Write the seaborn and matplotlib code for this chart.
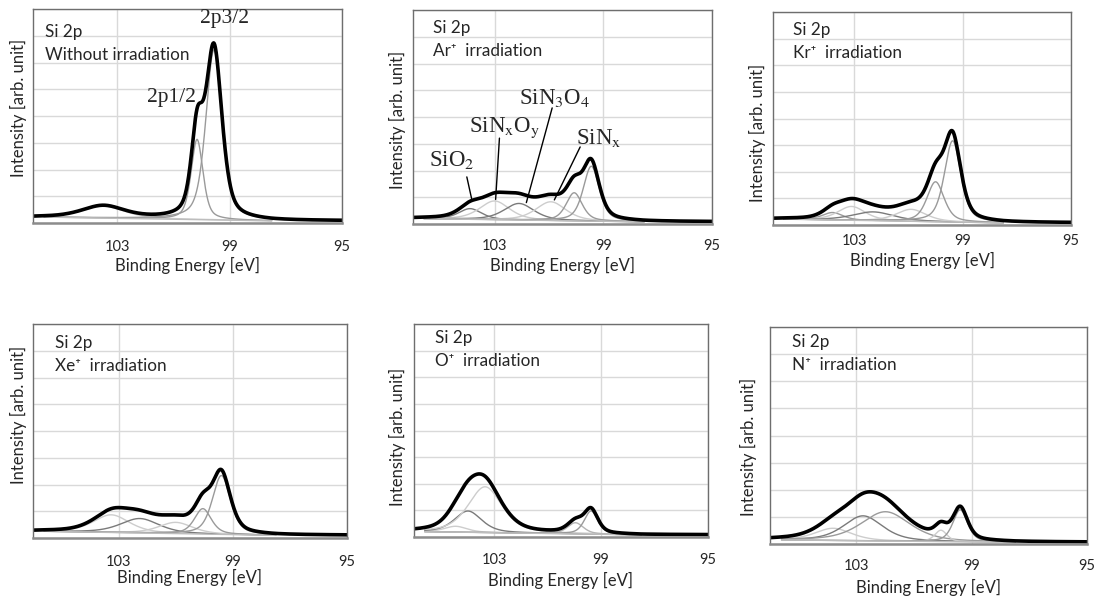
import numpy as np
import pandas as pd
import matplotlib
matplotlib.use("Agg")
import matplotlib.pyplot as plt
import seaborn as sns

# ---------------- data ----------------
x_ticks = [103, 99, 95]
x_range = (106, 95)
fit_range = (105.6, 97.5)

titles = ["Without irradiation", "Ar\u207a  irradiation", "Kr\u207a  irradiation",
          "Xe\u207a  irradiation", "O\u207a  irradiation", "N\u207a  irradiation"]

# peak centres [eV], heights above background [arb.], FWHM [eV], line shade
p1_centers = [103.5, 100.16, 99.56]
p1_heights = [0.45, 3.0, 6.35]
p1_fwhm = [1.8, 0.5, 0.68]
p1_shade = ["light", "mid", "mid"]
p1_bg = [0.22, 0.08]

p2_centers = [103.9, 103.0, 102.1, 100.93, 100.07, 99.44]
p2_heights = [0.4, 0.7, 0.62, 0.7, 1.05, 2.05]
p2_fwhm = [1.0, 1.3, 1.3, 1.3, 0.7, 0.7]
p2_shade = ["dark", "light", "dark", "light", "mid", "mid"]
p2_bg = [0.2, 0.08]

p3_centers = [103.8, 103.1, 102.3, 100.9, 100.0, 99.37]
p3_heights = [0.28, 0.52, 0.33, 0.45, 1.5, 3.05]
p3_fwhm = [0.9, 1.2, 1.8, 1.3, 0.75, 0.72]
p3_shade = ["mid", "light", "dark", "light", "mid", "mid"]
p3_bg = [0.22, 0.08]

p4_centers = [103.26, 102.26, 101.0, 100.05, 99.4]
p4_heights = [0.66, 0.54, 0.42, 0.95, 2.2]
p4_fwhm = [1.5, 1.6, 1.4, 0.7, 0.75]
p4_shade = ["light", "dark", "light", "mid", "mid"]
p4_bg = [0.25, 0.1]

p5_centers = [104.44, 103.98, 103.34, 99.96, 99.375]
p5_heights = [0.22, 0.8, 1.72, 0.42, 0.87]
p5_fwhm = [1.0, 1.2, 1.5, 0.7, 0.6]
p5_shade = ["light", "dark", "light", "lightmid", "mid"]
p5_bg = [0.2, 0.08]

p6_centers = [103.81, 102.77, 101.99, 100.07, 99.4]
p6_heights = [0.45, 0.92, 1.08, 0.42, 1.18]
p6_fwhm = [1.5, 1.6, 2.0, 0.5, 0.6]
p6_shade = ["light", "dark", "mid", "light", "mid"]
p6_bg = [0.15, 0.06]

# annotation labels
p1_labels = ["2p3/2", "2p1/2"]
p1_label_pos = [(99.18, 7.63), (101.07, 4.71)]
p2_labels = ["SiO$_2$", "SiN$_\\mathrm{x}$O$_\\mathrm{y}$", "SiN$_3$O$_4$", "SiN$_\\mathrm{x}$"]
p2_label_pos = [(104.57, 2.39), (102.63, 3.59), (100.8, 4.71), (99.16, 3.21)]
p2_line_start = [(104.02, 1.76), (102.82, 3.21), (100.88, 4.34), (99.85, 2.88)]
p2_line_end = [(103.84, 0.93), (102.96, 0.92), (101.83, 0.8), (100.8, 0.9)]

# ---------------- layout (pixels) ----------------
W, H = 1099, 598
boxes = [(33, 342, 9, 223), (413, 712, 10, 224), (773, 1071, 12, 225),
         (33, 347, 324, 538), (414, 708, 324, 537), (770, 1087, 327, 544)]
ylabel_xy = [(27, 108), (406, 120), (766, 133), (27, 415), (406, 437), (757, 447)]
note_offset = [(12, 18), (20, 13), (20, 13), (22, 14), (21, 9), (22, 10)]
tick_pad = [12.2, 10.8, 6.5, 12.2, 11.5, 10.8]
xlabel_pad = [2.3, 2.6, 3.0, 0.3, 3.4, 4.1]

shades = {"light": "#cdcdcd", "lightmid": "#b4b4b4", "mid": "#9a9a9a", "dark": "#7a7a7a"}

sns.set_theme(style="white")
plt.rcParams["font.family"] = ["Lato", "DejaVu Sans"]
plt.rcParams["mathtext.fontset"] = "stix"

fig = plt.figure(figsize=(W / 100, H / 100), dpi=100)

panels = [
    (p1_centers, p1_heights, p1_fwhm, p1_shade, p1_bg),
    (p2_centers, p2_heights, p2_fwhm, p2_shade, p2_bg),
    (p3_centers, p3_heights, p3_fwhm, p3_shade, p3_bg),
    (p4_centers, p4_heights, p4_fwhm, p4_shade, p4_bg),
    (p5_centers, p5_heights, p5_fwhm, p5_shade, p5_bg),
    (p6_centers, p6_heights, p6_fwhm, p6_shade, p6_bg),
]

xs = np.linspace(x_range[0], x_range[1], 1101)


def peak(x, c, h, w, eta=0.5):
    t = (x - c) / (w / 2)
    return h * ((1 - eta) * np.exp(-np.log(2) * t ** 2) + eta / (1 + t ** 2))


def background(x, bg):
    xl, xr = fit_range
    frac = np.clip((xl - x) / (xl - xr), 0, 1)
    return bg[0] + (bg[1] - bg[0]) * frac


for i, (box, (cen, hei, fw, sh, bg)) in enumerate(zip(boxes, panels)):
    l, r, t, b = box
    ax = fig.add_axes([l / W, 1 - b / H, (r - l) / W, (b - t) / H])
    base = background(xs, bg)
    infit = (xs <= fit_range[0]) & (xs >= fit_range[1])
    total = base.copy()
    for c, h, w, s in zip(cen, hei, fw, sh):
        comp = peak(xs, c, h, w)
        total = total + comp
        df = pd.DataFrame({"x": xs[infit], "y": (base + comp)[infit]})
        sns.lineplot(data=df, x="x", y="y", ax=ax, color=shades[s], lw=1.0,
                     sort=False, estimator=None)
    dfb = pd.DataFrame({"x": xs[infit], "y": base[infit]})
    sns.lineplot(data=dfb, x="x", y="y", ax=ax, color="#bdbdbd", lw=1.0,
                 sort=False, estimator=None)
    dft = pd.DataFrame({"x": xs, "y": total})
    sns.lineplot(data=dft, x="x", y="y", ax=ax, color="black", lw=2.6,
                 sort=False, estimator=None)

    ax.set_xlim(*x_range)
    ax.set_ylim(0, 8)
    ax.set_xticks(x_ticks)
    ax.set_xticklabels([str(v) for v in x_ticks], fontsize=10.5)
    ax.set_yticks(range(0, 9))
    ax.set_yticklabels([])
    ax.tick_params(axis="both", length=0)
    ax.tick_params(axis="x", pad=tick_pad[i])
    ax.grid(True, color="#d9d9d9", lw=1.0)
    ax.set_axisbelow(True)
    for sp in ax.spines.values():
        sp.set_color("#6e6e6e")
        sp.set_linewidth(1.0)
    ax.spines["bottom"].set_color("#8c8c8c")
    ax.spines["bottom"].set_linewidth(1.8)
    ax.set_xlabel("Binding Energy [eV]", fontsize=12, labelpad=xlabel_pad[i])
    ax.set_ylabel("Intensity [arb. unit]", fontsize=12)
    lx, ly = ylabel_xy[i]
    ax.yaxis.set_label_coords((lx - l) / (r - l), (b - ly) / (b - t))
    dx, dy = note_offset[i]
    ax.text(dx / (r - l), 1 - (dy - 3) / (b - t), "Si 2p\n" + titles[i],
            transform=ax.transAxes, ha="left", va="top", fontsize=12.3,
            linespacing=1.55)

    if i == 0:
        for txt, (tx, ty) in zip(p1_labels, p1_label_pos):
            ax.text(tx, ty, txt, ha="center", va="center", fontsize=15.5,
                    family="Liberation Serif")
    if i == 1:
        for txt, (tx, ty), (sx, sy), (ex, ey) in zip(p2_labels, p2_label_pos,
                                                     p2_line_start, p2_line_end):
            ax.text(tx, ty, txt, ha="center", va="center", fontsize=16.5,
                    family="Liberation Serif")
            ax.plot([sx, ex], [sy, ey], color="black", lw=1.0)

fig.savefig("out.png", dpi=100)
